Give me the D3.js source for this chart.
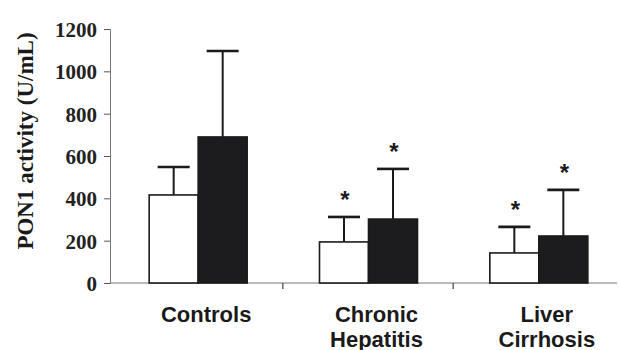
<!DOCTYPE html>
<html lang="en">
<head>
<meta charset="utf-8">
<title>PON1 activity</title>
<script src="https://d3js.org/d3.v7.min.js"></script>
<style>
  body { margin: 0; background: #fff; }
  .tick text { font-family: "Liberation Serif", "Times New Roman", serif; font-weight: bold; font-size: 21px; fill: #222; }
  .ylabel { font-family: "Liberation Serif", "Times New Roman", serif; font-weight: bold; font-size: 23px; fill: #1a1a1a; }
  .cat { font-family: "Liberation Sans", Arial, sans-serif; font-weight: bold; font-size: 22px; fill: #1a1a1a; }
  .star { font-family: "Liberation Sans", Arial, sans-serif; font-weight: bold; font-size: 24px; fill: #1a1a1a; }
</style>
</head>
<body>
<svg id="chart" width="619" height="350"></svg>
<script>
// values
var categories = ["Controls", "Chronic Hepatitis", "Liver Cirrhosis"];
var catLines = [["Controls"], ["Chronic", "Hepatitis"], ["Liver", "Cirrhosis"]];
var series = ["white", "black"];
var whiteMean = [416, 194, 142];
var whiteSD   = [132, 118, 123];
var blackMean = [690, 302, 222];
var blackSD   = [406, 237, 218];
var whiteSig  = [false, true, true];
var blackSig  = [false, true, true];
var yTicks = [0, 200, 400, 600, 800, 1000, 1200];

var svg = d3.select("#chart");
var x0 = 113, x1 = 624, yTop = 29, yZero = 283;

var x = d3.scaleBand().domain(categories).range([x0, x1]);
var xs = d3.scaleBand().domain(series).range([0, 98]);
var off = (x.bandwidth() - 98) / 2;
var y = d3.scaleLinear().domain([0, 1200]).range([yZero, yTop]);

// y axis
var yAxis = d3.axisLeft(y).tickValues(yTicks).tickSize(6).tickPadding(7).tickFormat(d3.format("d"));
var gy = svg.append("g").attr("transform", "translate(110,0)").call(yAxis);
gy.select(".domain").attr("stroke", "#777");
gy.selectAll(".tick line").attr("stroke", "#555");
gy.selectAll(".tick text").attr("dy", "0.36em");

// x axis line + separator ticks
svg.append("line").attr("x1", 110).attr("x2", 617).attr("y1", yZero).attr("y2", yZero)
  .attr("stroke", "#777").attr("stroke-width", 1.2);
svg.selectAll(".sep").data(categories.slice(1)).enter().append("line")
  .attr("x1", function(d) { return x(d) - 0.5; }).attr("x2", function(d) { return x(d) - 0.5; })
  .attr("y1", yZero).attr("y2", yZero + 6).attr("stroke", "#444").attr("stroke-width", 1.2);

var rows = categories.map(function(c, i) {
  return [
    { cat: c, s: "white", m: whiteMean[i], sd: whiteSD[i], sig: whiteSig[i] },
    { cat: c, s: "black", m: blackMean[i], sd: blackSD[i], sig: blackSig[i] }
  ];
}).flat();

function bx(d) { return x(d.cat) + off + xs(d.s); }
var bw = xs.bandwidth();

// error bars (drawn first so bar tops cover them)
var eb = svg.selectAll(".err").data(rows).enter().append("g");
eb.append("line")
  .attr("x1", function(d) { return bx(d) + bw / 2; }).attr("x2", function(d) { return bx(d) + bw / 2; })
  .attr("y1", function(d) { return y(d.m); }).attr("y2", function(d) { return y(d.m + d.sd); })
  .attr("stroke", "#1a1a1a").attr("stroke-width", 2);
eb.append("line")
  .attr("x1", function(d) { return bx(d) + bw / 2 - 16; }).attr("x2", function(d) { return bx(d) + bw / 2 + 16; })
  .attr("y1", function(d) { return y(d.m + d.sd); }).attr("y2", function(d) { return y(d.m + d.sd); })
  .attr("stroke", "#1a1a1a").attr("stroke-width", 2.6);

// bars
svg.selectAll(".bar").data(rows).enter().append("rect")
  .attr("x", bx).attr("width", bw)
  .attr("y", function(d) { return y(d.m); })
  .attr("height", function(d) { return yZero - y(d.m); })
  .attr("fill", function(d) { return d.s === "white" ? "#fff" : "#1c1c1e"; })
  .attr("stroke", "#1a1a1a").attr("stroke-width", 1.6);

// significance stars
svg.selectAll(".star").data(rows.filter(function(d) { return d.sig; })).enter().append("text")
  .attr("class", "star").attr("text-anchor", "middle")
  .attr("x", function(d) { return bx(d) + bw / 2 + 1; })
  .attr("y", function(d) { return y(d.m + d.sd) - 9; })
  .text("*");

// category labels
var cl = svg.selectAll(".cat").data(categories).enter().append("text")
  .attr("class", "cat").attr("text-anchor", "middle")
  .attr("x", function(d) { return x(d) + x.bandwidth() / 2 + 8; })
  .attr("y", 322);
cl.selectAll("tspan").data(function(d, i) { return catLines[i]; }).enter().append("tspan")
  .attr("x", function() { return d3.select(this.parentNode).attr("x"); })
  .attr("dy", function(d, i) { return i === 0 ? 0 : 25; })
  .text(function(d) { return d; });

// y label
svg.append("text").attr("class", "ylabel").attr("text-anchor", "middle")
  .attr("transform", "translate(33,141) rotate(-90)")
  .text("PON1 activity (U/mL)");
</script>
</body>
</html>
